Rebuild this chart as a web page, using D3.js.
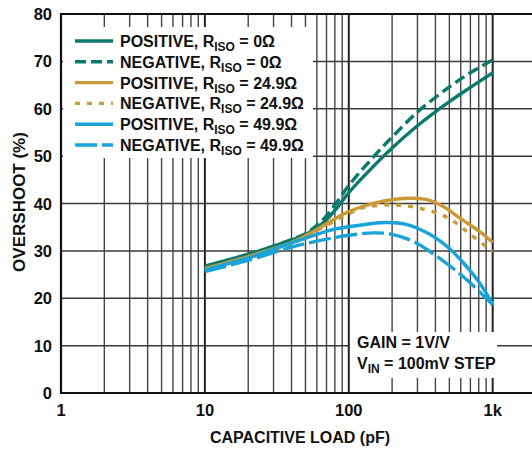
<!DOCTYPE html>
<html>
<head>
<meta charset="utf-8">
<script src="https://cdn.jsdelivr.net/npm/d3@7"></script>
<style>
  body { margin: 0; background: #fff; }
  text { font-family: "Liberation Sans", Arial, sans-serif; font-weight: bold; fill: #111; }
</style>
</head>
<body>
<svg id="chart" width="532" height="449"></svg>
<script>
// capacitive load (pF) and overshoot (%)
var posZeroC  = [10, 20, 30, 40, 50, 60, 70, 85, 100, 150, 200, 300, 500, 700, 1000];
var posZeroV  = [26.8, 29.3, 31, 32.3, 33.4, 34.9, 36.6, 39.5, 42.3, 48, 51.7, 56.4, 61.5, 64.5, 67.6];
var negZeroC  = [10, 20, 30, 40, 50, 60, 70, 85, 100, 150, 200, 300, 500, 700, 1000];
var negZeroV  = [26.5, 29.1, 31, 32.4, 33.6, 35.4, 37.4, 40.8, 43.8, 50, 54, 59.3, 64.6, 67.6, 70.3];
var pos249C   = [10, 20, 40, 60, 75, 100, 150, 200, 280, 350, 450, 600, 800, 1000];
var pos249V   = [26.3, 28.8, 31.8, 34.5, 36.3, 38.3, 40.1, 40.8, 41.1, 40.8, 39.4, 36.8, 34.2, 31.8];
var neg249C   = [10, 20, 40, 60, 100, 125, 200, 300, 480, 700, 1000];
var neg249V   = [26, 28.5, 31.5, 34.3, 37.8, 39.1, 39.7, 39.1, 37.1, 33.5, 29.8];
var pos499C   = [10, 20, 45, 75, 100, 180, 250, 360, 500, 620, 800, 1000];
var pos499V   = [26, 28.5, 32.2, 34.4, 35.1, 36, 35.6, 33.6, 30.5, 27.6, 23.5, 18.8];
var neg499C   = [10, 20, 45, 83, 100, 150, 200, 280, 480, 700, 1000];
var neg499V   = [25.6, 28, 31.2, 32.9, 33.3, 33.8, 33.5, 32, 27.3, 23.2, 18.6];

var xTicks = [1, 10, 100, 1000];
var xTickLabels = ["1", "10", "100", "1k"];
var yTicks = [0, 10, 20, 30, 40, 50, 60, 70, 80];

var series = [
  {name: "POSITIVE", r: "0Ω", c: posZeroC, v: posZeroV, color: "#0a7a6c", dash: null},
  {name: "NEGATIVE", r: "0Ω", c: negZeroC, v: negZeroV, color: "#0a7a6c", dash: "11,5"},
  {name: "POSITIVE", r: "24.9Ω", c: pos249C, v: pos249V, color: "#c99a35", dash: null},
  {name: "NEGATIVE", r: "24.9Ω", c: neg249C, v: neg249V, color: "#c99a35", dash: "5,7"},
  {name: "POSITIVE", r: "49.9Ω", c: pos499C, v: pos499V, color: "#19a3d8", dash: null},
  {name: "NEGATIVE", r: "49.9Ω", c: neg499C, v: neg499V, color: "#19a3d8", dash: "22,5"}
];

function drawChart() {
  var svg = d3.select("#chart");
  var pl = 61, pr = 536, pt = 14, pb = 393;

  var x = d3.scaleLog().domain([1, 2000]).range([pl, pr]);
  var y = d3.scaleLinear().domain([0, 80]).range([pb, pt]);

  // grid
  var minor = [];
  [1, 10, 100].forEach(function(dec) {
    for (var i = 2; i <= 10; i++) minor.push(dec * i);
  });
  var isDecade = d => [10, 100, 1000].indexOf(d) >= 0;
  var grid = svg.append("g");
  grid.selectAll("line.v")
    .data(minor).enter().append("line")
    .attr("x1", d => x(d)).attr("x2", d => x(d))
    .attr("y1", pt).attr("y2", pb)
    .attr("stroke", d => isDecade(d) ? "#222" : "#444")
    .attr("stroke-width", d => isDecade(d) ? 2 : 1.4);
  grid.selectAll("line.h")
    .data(yTicks.slice(1, -1)).enter().append("line")
    .attr("x1", pl).attr("x2", pr)
    .attr("y1", d => y(d)).attr("y2", d => y(d))
    .attr("stroke", "#3a3a3a").attr("stroke-width", 1.5);

  // white boxes behind legend and note
  svg.append("rect").attr("x", pl + 2).attr("y", 27).attr("width", 250).attr("height", 131).attr("fill", "#fff");
  svg.append("rect").attr("x", 350).attr("y", 332).attr("width", 147).attr("height", 46).attr("fill", "#fff");

  // frame
  svg.append("path")
    .attr("d", "M" + pr + "," + pt + "H" + pl + "V" + pb + "H" + pr)
    .attr("fill", "none").attr("stroke", "#111").attr("stroke-width", 2.2);

  // curves
  var line = d3.line()
    .x(d => x(d[0])).y(d => y(d[1]))
    .curve(d3.curveCatmullRom.alpha(0.5));

  svg.append("g").selectAll("path")
    .data(series).enter().append("path")
    .attr("d", s => line(s.c.map((c, i) => [c, s.v[i]])))
    .attr("fill", "none")
    .attr("stroke", s => s.color)
    .attr("stroke-width", 3.4)
    .attr("stroke-dasharray", s => s.dash);

  // tick labels
  svg.append("g").selectAll("text")
    .data(yTicks).enter().append("text")
    .attr("x", 52).attr("y", d => y(d) + 6)
    .attr("text-anchor", "end").attr("font-size", 16.5)
    .text(d => d);
  svg.append("g").selectAll("text")
    .data(xTicks).enter().append("text")
    .attr("x", d => x(d)).attr("y", 416)
    .attr("text-anchor", "middle").attr("font-size", 16.5)
    .text((d, i) => xTickLabels[i]);

  // axis titles
  svg.append("text")
    .attr("x", 300).attr("y", 443)
    .attr("text-anchor", "middle").attr("font-size", 16)
    .text("CAPACITIVE LOAD (pF)");
  svg.append("text")
    .attr("transform", "translate(25,202) rotate(-90)")
    .attr("text-anchor", "middle").attr("font-size", 17)
    .text("OVERSHOOT (%)");

  // legend
  var lg = svg.append("g").selectAll("g")
    .data(series).enter().append("g")
    .attr("transform", (s, i) => "translate(0," + (41 + i * 20.8) + ")");
  lg.append("line")
    .attr("x1", 75).attr("x2", 113).attr("y1", 0).attr("y2", 0)
    .attr("stroke", s => s.color).attr("stroke-width", 3.4)
    .attr("stroke-dasharray", s => s.dash);
  var lt = lg.append("text").attr("x", 120).attr("y", 6).attr("font-size", 16);
  lt.append("tspan").text(s => s.name + ", R");
  lt.append("tspan").attr("dy", 4).attr("font-size", 12).text("ISO");
  lt.append("tspan").attr("dy", -4).text(s => " = " + s.r);

  // note
  svg.append("text").attr("x", 357).attr("y", 348).attr("font-size", 16).text("GAIN = 1V/V");
  var n2 = svg.append("text").attr("x", 357).attr("y", 369).attr("font-size", 16);
  n2.append("tspan").text("V");
  n2.append("tspan").attr("dy", 4).attr("font-size", 12).text("IN");
  n2.append("tspan").attr("dy", -4).text(" = 100mV STEP");
}

drawChart();
</script>
</body>
</html>
